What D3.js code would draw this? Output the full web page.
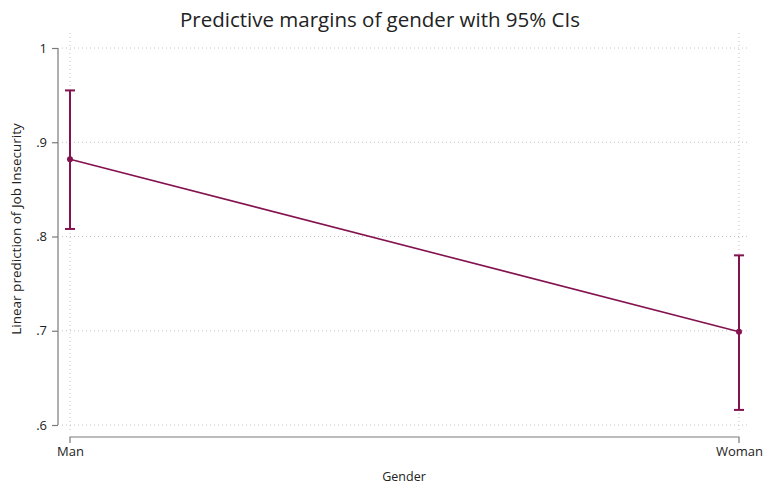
<!DOCTYPE html>
<html>
<head>
<meta charset="utf-8">
<script src="https://cdn.jsdelivr.net/npm/d3@7"></script>
<style>
  body { margin: 0; background: #fff; }
  text { font-family: "Open Sans", "Noto Sans", sans-serif; fill: #222; }
</style>
</head>
<body>
<svg id="chart" width="765" height="490"></svg>
<script>
    // values
    var categories = ['Man', 'Woman'];
    var margins = [0.882, 0.699];
    var ciLower = [0.808, 0.616];
    var ciUpper = [0.955, 0.780];
    var yTicks = [0.6, 0.7, 0.8, 0.9, 1];

    var color = '#84124f';
    var svg = d3.select('#chart');

    var x = d3.scalePoint().domain(categories).range([70, 739]);
    var y = d3.scaleLinear().domain([0.6, 1]).range([425, 48]);

    var fmt = function(d){ return d === 1 ? '1' : d3.format('.1f')(d).replace(/^0/, ''); };

    // grid
    svg.append('g').selectAll('line')
        .data(yTicks)
        .enter().append('line')
        .attr('x1', 62).attr('x2', 750)
        .attr('y1', function(d){ return y(d); })
        .attr('y2', function(d){ return y(d); })
        .attr('stroke', '#c4c4c4')
        .attr('stroke-width', 1)
        .attr('stroke-dasharray', '1,3');

    svg.append('g').selectAll('line')
        .data(categories)
        .enter().append('line')
        .attr('x1', function(d){ return x(d); })
        .attr('x2', function(d){ return x(d); })
        .attr('y1', 33).attr('y2', 432)
        .attr('stroke', '#c4c4c4')
        .attr('stroke-width', 1)
        .attr('stroke-dasharray', '1,3');

    // axes
    var yAxis = svg.append('g')
        .attr('transform', 'translate(58,0)')
        .call(d3.axisLeft(y).tickValues(yTicks).tickFormat(fmt).tickSize(6).tickPadding(5));
    var xAxis = svg.append('g')
        .attr('transform', 'translate(0,437)')
        .call(d3.axisBottom(x).tickSize(6).tickPadding(4));

    [yAxis, xAxis].forEach(function(a){
        a.select('.domain').attr('stroke', '#7a7a7a').attr('stroke-width', 1.2);
        a.selectAll('.tick line').attr('stroke', '#7a7a7a').attr('stroke-width', 1.2);
        a.selectAll('text').attr('font-size', 13).attr('fill', '#222')
            .attr('font-family', '"Open Sans", sans-serif');
    });
    // stata style: axis spans only the tick range
    yAxis.select('.domain').attr('d', 'M0,' + y(0.6) + 'V' + y(1));
    xAxis.select('.domain').attr('d', 'M' + x('Man') + ',6V0H' + x('Woman') + 'V6');
    xAxis.selectAll('.tick line').remove();

    // titles
    svg.append('text')
        .attr('x', 380).attr('y', 27)
        .attr('text-anchor', 'middle')
        .attr('font-size', 20.5)
        .text('Predictive margins of gender with 95% CIs');

    svg.append('text')
        .attr('x', 404).attr('y', 481)
        .attr('text-anchor', 'middle')
        .attr('font-size', 12.5)
        .text('Gender');

    svg.append('text')
        .attr('transform', 'translate(21,229) rotate(-90)')
        .attr('text-anchor', 'middle')
        .attr('font-size', 13.5)
        .text('Linear prediction of Job Insecurity');

    // CI bars
    var ci = svg.append('g').selectAll('g')
        .data(categories)
        .enter().append('g');
    ci.append('line')
        .attr('x1', function(d){ return x(d); })
        .attr('x2', function(d){ return x(d); })
        .attr('y1', function(d, i){ return y(ciLower[i]); })
        .attr('y2', function(d, i){ return y(ciUpper[i]); })
        .attr('stroke', color).attr('stroke-width', 2);
    ci.append('line')
        .attr('x1', function(d){ return x(d) - 5; })
        .attr('x2', function(d){ return x(d) + 5; })
        .attr('y1', function(d, i){ return y(ciLower[i]); })
        .attr('y2', function(d, i){ return y(ciLower[i]); })
        .attr('stroke', color).attr('stroke-width', 2);
    ci.append('line')
        .attr('x1', function(d){ return x(d) - 5; })
        .attr('x2', function(d){ return x(d) + 5; })
        .attr('y1', function(d, i){ return y(ciUpper[i]); })
        .attr('y2', function(d, i){ return y(ciUpper[i]); })
        .attr('stroke', color).attr('stroke-width', 2);

    // margins line + points
    var line = d3.line()
        .x(function(d, i){ return x(categories[i]); })
        .y(function(d){ return y(d); });
    svg.append('path')
        .datum(margins)
        .attr('d', line)
        .attr('fill', 'none')
        .attr('stroke', color)
        .attr('stroke-width', 1.6);
    svg.append('g').selectAll('circle')
        .data(margins)
        .enter().append('circle')
        .attr('cx', function(d, i){ return x(categories[i]); })
        .attr('cy', function(d){ return y(d); })
        .attr('r', 3)
        .attr('fill', color);
</script>
</body>
</html>
